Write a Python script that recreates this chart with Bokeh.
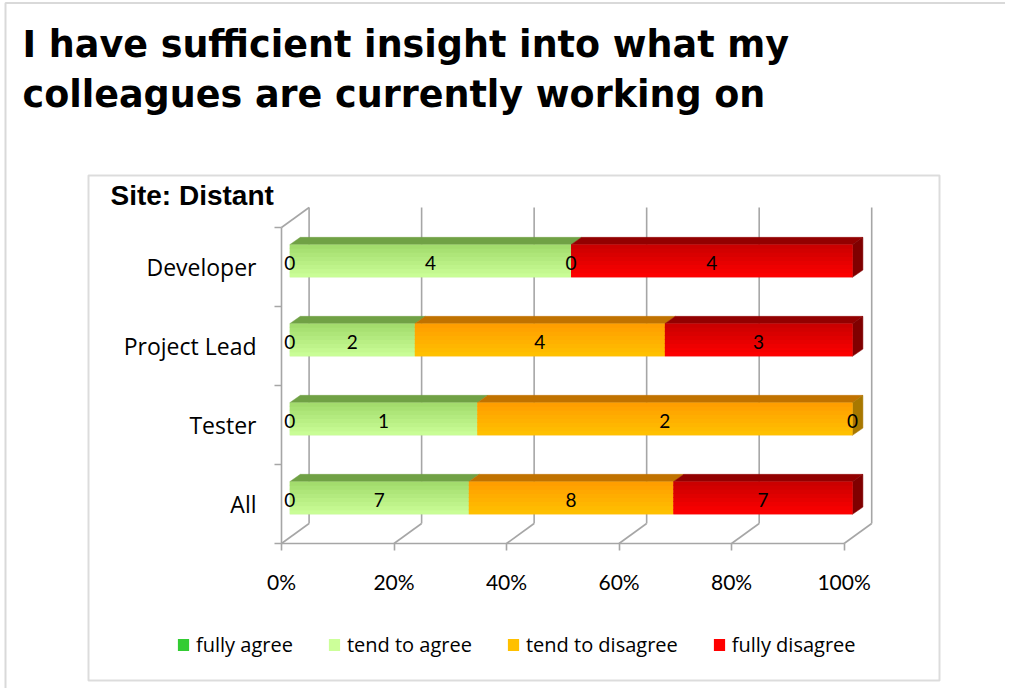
from bokeh.plotting import figure
from bokeh.models import (Range1d, FixedTicker, Label, BoxAnnotation, Legend,
                          LegendItem, ColumnDataSource)
from bokeh.core.properties import value
from bokeh.embed import file_html
from bokeh.resources import INLINE

# ---------------- data ----------------
title_lines = ["I have sufficient insight into what my",
               "colleagues are currently working on"]
subtitle = "Site: Distant"
categories = ["All", "Tester", "Project Lead", "Developer"]  # bottom -> top
series = ["fully agree", "tend to agree", "tend to disagree", "fully disagree"]
fully_agree = [0, 0, 0, 0]
tend_to_agree = [7, 1, 2, 4]
tend_to_disagree = [8, 2, 4, 0]
fully_disagree = [7, 0, 3, 4]
x_tick_values = [0, 20, 40, 60, 80, 100]

# ---------------- style ----------------
FRONT_TOP = ["#24b824", "#a0da6a", "#ff9c00", "#c80000"]
FRONT_BOTTOM = ["#33cc33", "#ccff99", "#ffc200", "#ff0000"]
TOP_FACE = ["#1f8f1f", "#70a145", "#c07200", "#920000"]
SIDE_FACE = ["#1a7a1a", "#5d8a35", "#a87800", "#800000"]
LEGEND_COLORS = ["#33cc33", "#ccff99", "#ffc000", "#ff0000"]
GRID_COLOR = "#a6a6a6"

PX_X = 562.6   # pixels per 100 %
PX_Y = 79.0    # pixels per category slot
WALL_DX, WALL_DY = 27.6 / PX_X, 20.0 / PX_Y
BAR_DX0, BAR_DY0 = 8.3 / PX_X, 6.0 / PX_Y
BAR_DX, BAR_DY = 10.5 / PX_X, 7.3 / PX_Y
BAR_H = 32.7 / PX_Y

W, H = 1005, 688
ORIGIN_X, ORIGIN_Y = 281, 543   # canvas pixel of (0 %, bottom of category axis)
TEXT_SHIFT = 11                 # label baseline correction (px)


def mix(c1, c2, t):
    a = [int(c1[i:i + 2], 16) for i in (1, 3, 5)]
    b = [int(c2[i:i + 2], 16) for i in (1, 3, 5)]
    return "#%02x%02x%02x" % tuple(round(a[k] + (b[k] - a[k]) * t) for k in range(3))


p = figure(width=W, height=H, output_backend="svg", toolbar_location=None,
           x_range=Range1d(-ORIGIN_X / PX_X, (W - ORIGIN_X) / PX_X),
           y_range=Range1d(-(H - ORIGIN_Y) / PX_Y, ORIGIN_Y / PX_Y),
           min_border=0, min_border_left=0, min_border_right=0,
           min_border_top=0, min_border_bottom=0)
p.outline_line_color = None
p.xgrid.visible = False
p.ygrid.visible = False
p.background_fill_color = "white"
p.border_fill_color = "white"

n = len(categories)
ticks = [v / 100 for v in x_tick_values]

# ---------------- slide frame and chart box (screen units from bottom-left) ----------------
p.add_layout(BoxAnnotation(left=5, right=W + 20, top=H - 2.5, bottom=-20,
                           left_units="screen", right_units="screen",
                           top_units="screen", bottom_units="screen",
                           fill_alpha=0, line_color="#808080", line_width=2))
p.add_layout(BoxAnnotation(left=88, right=939, top=H - 175, bottom=H - 680,
                           left_units="screen", right_units="screen",
                           top_units="screen", bottom_units="screen",
                           fill_alpha=0, line_color="#8c8c8c", line_width=2))

# ---------------- walls / gridlines ----------------
x0, y0, x1, y1 = [], [], [], []
for t in ticks:
    x0 += [t + WALL_DX, t]
    y0 += [WALL_DY, 0]
    x1 += [t + WALL_DX, t + WALL_DX]
    y1 += [n + WALL_DY, WALL_DY]
x0 += [0, 0, 0]
y0 += [0, 0, n]
x1 += [1, 0, WALL_DX]
y1 += [0, n, n + WALL_DY]
p.segment(x0=x0, y0=y0, x1=x1, y1=y1, line_color=GRID_COLOR, line_width=1.6)

# ---------------- bars ----------------
values = [fully_agree, tend_to_agree, tend_to_disagree, fully_disagree]
NS = 8
EPS = 1.0 / PX_Y
base = dict(l=[], r=[], b=[], t=[], c=[])
strip = dict(l=[], r=[], b=[], t=[], c=[])
tops = dict(xs=[], ys=[], c=[])
sides = dict(xs=[], ys=[], c=[])
labels = dict(x=[], y=[], text=[])
for i in range(n):
    total = sum(v[i] for v in values)
    cy = i + 0.5 + BAR_DY0
    yb, yt = cy - BAR_H / 2, cy + BAR_H / 2
    left = 0.0
    last = None
    for k, v in enumerate(values):
        frac = v[i] / total
        l, r = left + BAR_DX0, left + frac + BAR_DX0
        labels["x"].append((l + r) / 2)
        labels["y"].append(cy - 0.02)
        labels["text"].append(str(v[i]))
        if frac > 0:
            base["l"].append(l)
            base["r"].append(r)
            base["b"].append(yb)
            base["t"].append(yt)
            base["c"].append(mix(FRONT_BOTTOM[k], FRONT_TOP[k], 0.5))
            for s in range(NS):
                strip["l"].append(l)
                strip["r"].append(r)
                strip["b"].append(yb + s * BAR_H / NS)
                strip["t"].append(min(yt, yb + (s + 1) * BAR_H / NS + EPS))
                strip["c"].append(mix(FRONT_BOTTOM[k], FRONT_TOP[k], (s + 0.5) / NS))
            tops["xs"].append([l, r, r + BAR_DX, l + BAR_DX])
            tops["ys"].append([yt, yt, yt + BAR_DY, yt + BAR_DY])
            tops["c"].append(TOP_FACE[k])
            last = (r, k)
        left += frac
    if last is not None:
        r, k = last
        sides["xs"].append([r, r + BAR_DX, r + BAR_DX, r])
        sides["ys"].append([yb, yb + BAR_DY, yt + BAR_DY, yt])
        sides["c"].append(SIDE_FACE[k])

p.patches("xs", "ys", source=ColumnDataSource(tops), fill_color="c", line_color="c",
          line_width=0.5)
p.patches("xs", "ys", source=ColumnDataSource(sides), fill_color="c", line_color="c",
          line_width=0.5)
p.quad(left="l", right="r", bottom="b", top="t", source=ColumnDataSource(base),
       fill_color="c", line_color=None)
p.quad(left="l", right="r", bottom="b", top="t", source=ColumnDataSource(strip),
       fill_color="c", line_color=None)
p.text(x="x", y="y", text="text", source=ColumnDataSource(labels),
       text_font=value("Lato"), text_font_size="19px", text_color="black",
       text_align="center", text_baseline="middle")

# ---------------- axes (drawn at the data origin) ----------------
xa = p.xaxis[0]
xa.fixed_location = 0
xa.ticker = FixedTicker(ticks=ticks, minor_ticks=[])
xa.major_label_overrides = {t: f"{v}%" for t, v in zip(ticks, x_tick_values)}
xa.axis_line_color = None
xa.major_tick_in = 0
xa.major_tick_out = 7
xa.major_tick_line_color = GRID_COLOR
xa.major_tick_line_width = 1.6
xa.major_label_standoff = 18
xa.major_label_text_font = "Lato"
xa.major_label_text_font_size = "21px"
xa.major_label_text_color = "black"

ya = p.yaxis[0]
ya.fixed_location = 0
centers = [i + 0.5 for i in range(n)]
ya.ticker = FixedTicker(ticks=centers, minor_ticks=list(range(n + 1)))
ya.major_label_overrides = {c: name for c, name in zip(centers, categories)}
ya.axis_line_color = None
ya.major_tick_line_color = None
ya.major_tick_in = 0
ya.major_tick_out = 0
ya.minor_tick_in = 0
ya.minor_tick_out = 7
ya.minor_tick_line_color = GRID_COLOR
ya.minor_tick_line_width = 1.6
ya.major_label_standoff = 18
ya.major_label_text_font = "Open Sans"
ya.major_label_text_font_size = "23px"
ya.major_label_text_color = "black"

# ---------------- titles (screen units from bottom-left) ----------------
for txt, base_y in zip(title_lines, [55, 105]):
    p.add_layout(Label(x=22, y=H - base_y + TEXT_SHIFT, x_units="screen", y_units="screen",
                       text=txt, text_font="DejaVu Sans", text_font_style="bold",
                       text_font_size="36.5px", text_color="black",
                       text_baseline="alphabetic"))
p.add_layout(Label(x=110, y=H - 205 + TEXT_SHIFT - 1, x_units="screen", y_units="screen",
                   text=subtitle, text_font="Liberation Sans", text_font_style="bold",
                   text_font_size="28px", text_color="black", text_baseline="alphabetic"))

# ---------------- legend ----------------
items = []
for name, col in zip(series, LEGEND_COLORS):
    rr = p.quad(left=[0], right=[0], bottom=[0], top=[0], fill_color=col,
                line_color=None)
    items.append(LegendItem(label=name, renderers=[rr]))
legend = Legend(items=items, orientation="horizontal", location=(176, H - 658),
                glyph_width=14, glyph_height=15, label_standoff=6, spacing=34,
                padding=0, margin=0, border_line_color=None, background_fill_alpha=0,
                label_text_font="Open Sans", label_text_font_size="20px",
                label_text_color="black")
p.add_layout(legend)

open("out.html", "w").write(file_html(p, INLINE))
